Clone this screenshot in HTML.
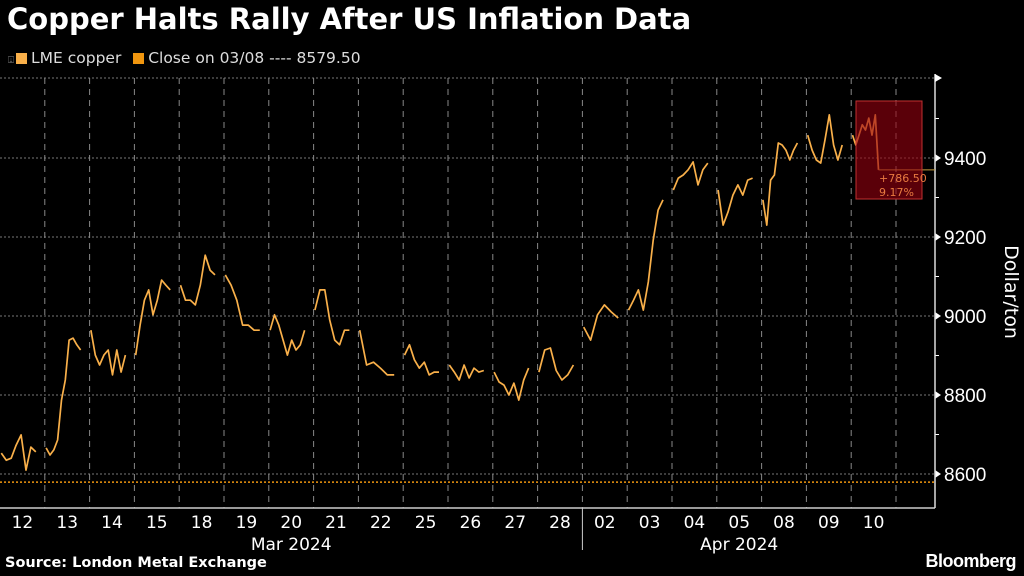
<!DOCTYPE html>
<html><head><meta charset="utf-8"><style>
body{margin:0;background:#000;width:1024px;height:576px;overflow:hidden;font-family:"Liberation Sans","DejaVu Sans",sans-serif;color:#fff}
#title{position:absolute;left:7px;top:2px;font-size:29px;font-weight:bold;margin:0;font-family:"DejaVu Sans","Liberation Sans",sans-serif;letter-spacing:0}
#legend{position:absolute;left:8px;top:49px;font-size:15.5px;color:#ddd;font-family:"DejaVu Sans",sans-serif}
.sw{display:inline-block;width:11px;height:11px;margin:0 4px 0 2px;vertical-align:-1px}
#source{position:absolute;left:5px;top:555px;font-size:14.5px;font-weight:bold;font-family:"DejaVu Sans",sans-serif}
#brand{position:absolute;right:8px;top:551px;font-size:18px;font-weight:bold;letter-spacing:-0.5px}
</style></head><body>
<h1 id="title">Copper Halts Rally After US Inflation Data</h1>
<div id="legend"><span><span style="color:#888;font-size:10px">⍗</span><span class="sw" style="background:#f9b04a"></span>LME copper</span>&nbsp;&nbsp;<span><span class="sw" style="background:#f0960f"></span>Close on 03/08 ---- 8579.50</span></div>
<svg id="chart" width="1024" height="576" style="position:absolute;left:0;top:0"></svg>
<div id="source">Source: London Metal Exchange</div>
<div id="brand">Bloomberg</div>
<script>
const dayLabels=["12","13","14","15","18","19","20","21","22","25","26","27","28","02","03","04","05","08","09","10"];
const monthLabels=["Mar 2024","Apr 2024"];
const yTicks=[8600,8800,9000,9200,9400];
const closeValue=8579.5;
const d0=[8653,8635,8640,8673,8699,8610,8668,8656];
const d1=[8666,8648,8661,8686,8787,8838,8939,8944,8927,8914];
const d2=[8964,8901,8876,8901,8914,8851,8914,8858,8901];
const d3=[8901,8977,9040,9066,9003,9040,9091,9078,9066];
const d4=[9078,9040,9040,9028,9078,9154,9116,9104];
const d5=[9104,9078,9040,8977,8977,8964,8964];
const d6=[8964,9003,8977,8939,8901,8939,8914,8927,8964];
const d7=[9015,9066,9066,8990,8939,8927,8964,8964];
const d8=[8964,8876,8883,8868,8851,8851];
const d9=[8901,8927,8889,8868,8883,8851,8858,8858];
const d10=[8876,8858,8838,8876,8843,8868,8858,8862];
const d11=[8858,8833,8825,8800,8830,8787,8838,8868];
const d12=[8858,8914,8919,8862,8838,8851,8876];
const d13=[8972,8939,9003,9028,9010,8995];
const d14=[9015,9040,9066,9015,9086,9192,9268,9294];
const d15=[9319,9349,9357,9370,9390,9332,9370,9387];
const d16=[9319,9230,9263,9306,9332,9306,9344,9349];
const d17=[9294,9230,9344,9357,9438,9433,9420,9395,9420,9438];
const d18=[9458,9420,9395,9387,9446,9509,9433,9395,9433];
const d19=[9458,9433,9458,9484,9471,9501,9458,9509,9370];
const days=[d0,d1,d2,d3,d4,d5,d6,d7,d8,d9,d10,d11,d12,d13,d14,d15,d16,d17,d18,d19];
const changeLabel="+786.50", pctLabel="9.17%";

const NS="http://www.w3.org/2000/svg";
const svg=document.getElementById('chart');
const DW=44.8, X0=0, RIGHT=935, TOP=78, BASE=508;
const xs=t=>X0+t*DW;
const ys=v=>158+(9400-v)/200*79;
function mk(tag,attrs,parent){const e=document.createElementNS(NS,tag);for(const k in attrs)e.setAttribute(k,attrs[k]);(parent||svg).appendChild(e);return e;}

const topG=mk('line',{x1:0,x2:RIGHT,y1:TOP,y2:TOP,stroke:'#777','stroke-dasharray':'2,2','stroke-width':1});


yTicks.forEach(v=>{
  const g=mk('line',{x1:0,x2:RIGHT,y1:ys(v),y2:ys(v),stroke:'#777','stroke-dasharray':'2,2','stroke-width':1});
  
  
  const tk=mk('path',{d:`M${RIGHT} ${ys(v)-4}L${RIGHT+6} ${ys(v)}L${RIGHT} ${ys(v)+4}Z`,fill:'#fff'});
  
  
  const t=mk('text',{x:RIGHT+9,y:ys(v)+7,fill:'#fff','font-size':19,'font-family':'Liberation Sans, sans-serif'});
  t.textContent=v;
  
  
  const m=mk('line',{x1:RIGHT,x2:RIGHT+4,y1:ys(v+100),y2:ys(v+100),stroke:'#fff'});
  
  
});
for(let i=1;i<=dayLabels.length;i++){
  const g=mk('line',{x1:xs(i),x2:xs(i),y1:TOP,y2:BASE,stroke:'#888','stroke-dasharray':'6,5','stroke-width':1});
  
  
}
const cl=mk('line',{x1:0,x2:RIGHT,y1:ys(closeValue),y2:ys(closeValue),stroke:'#f0960f','stroke-dasharray':'2,2','stroke-width':1.5});


const ax=mk('line',{x1:0,x2:RIGHT,y1:BASE,y2:BASE,stroke:'#ccc','stroke-width':1.5});


const ay=mk('line',{x1:RIGHT,x2:RIGHT,y1:TOP-4,y2:BASE,stroke:'#ddd','stroke-width':1.5});


const at=mk('path',{d:`M${RIGHT} ${TOP-4}L${RIGHT+7} ${TOP}L${RIGHT} ${TOP+4}Z`,fill:'#fff'});


dayLabels.forEach((d,i)=>{
  const t=mk('text',{x:xs(i+0.5),y:528,fill:'#fff','font-size':17,'text-anchor':'middle','font-family':'DejaVu Sans, sans-serif'});
  t.textContent=d;
  
  
});
const sep=mk('line',{x1:xs(13),x2:xs(13),y1:BASE,y2:550,stroke:'#ccc'});


[[xs(6.5)],[xs(16.5)]].forEach((p,i)=>{
  const t=mk('text',{x:p[0],y:550,fill:'#fff','font-size':17,'text-anchor':'middle','font-family':'DejaVu Sans, sans-serif'});
  t.textContent=monthLabels[i];
  
  
});
const yt=mk('text',{x:1005,y:292,fill:'#fff','font-size':19,'text-anchor':'middle',transform:'rotate(90 1005 292)','font-family':'DejaVu Sans, sans-serif'});
yt.textContent='Dollar/ton';


let lastX=0,lastY=0;
days.forEach((arr,d)=>{
  const span=d===days.length-1?0.58:0.77;
  const pts=arr.map((v,j)=>{const x=xs(d+0.03+span*j/(arr.length-1)),y=ys(v);lastX=x;lastY=y;return x.toFixed(1)+','+y.toFixed(1);});
  const p=mk('polyline',{points:pts.join(' '),fill:'none',stroke:'#f9b04a','stroke-width':1.7,'stroke-linejoin':'round'});
  
  
});
const cur=mk('line',{x1:lastX,x2:RIGHT,y1:lastY,y2:lastY,stroke:'#c8a040','stroke-width':1});


const bx=mk('rect',{x:856,y:101,width:66,height:98,fill:'rgba(150,0,15,0.6)',stroke:'#c03030','stroke-width':1});


[[changeLabel,182],[pctLabel,196]].forEach(([s,y])=>{
  const t=mk('text',{x:879,y:y,fill:'#e87a40','font-size':11,'font-family':'DejaVu Sans, sans-serif'});
  t.textContent=s;
  
  
});
</script>
</body></html>
